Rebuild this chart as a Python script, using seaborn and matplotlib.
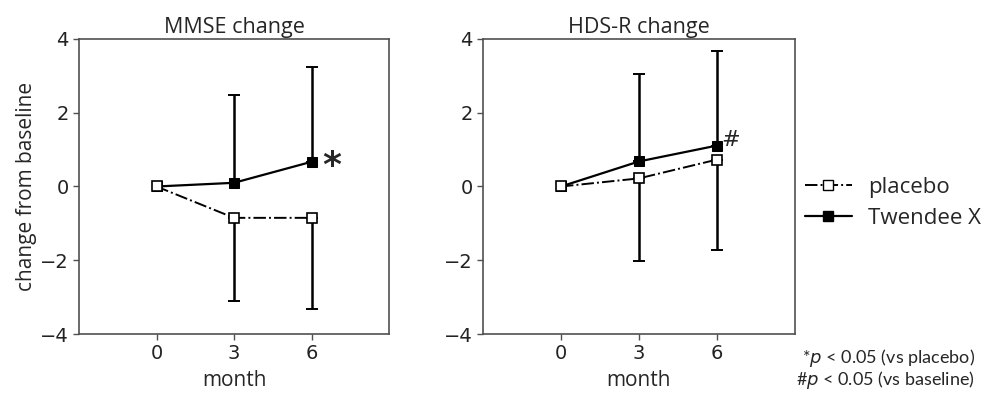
import numpy as np
import pandas as pd
import matplotlib
matplotlib.use("Agg")
import matplotlib.pyplot as plt
from matplotlib.lines import Line2D
import seaborn as sns

months = [0, 3, 6]
groups = ["placebo", "Twendee X"]
xtick_labels = ["0", "3", "6"]

mmse_placebo = [0.0, -0.85, -0.85]
mmse_placebo_sd = [0.0, 2.25, 2.47]
mmse_twendee = [0.0, 0.10, 0.67]
mmse_twendee_sd = [0.0, 2.37, 2.58]

hdsr_placebo = [0.0, 0.22, 0.73]
hdsr_placebo_sd = [0.0, 2.24, 2.45]
hdsr_twendee = [0.0, 0.68, 1.11]
hdsr_twendee_sd = [0.0, 2.37, 2.57]

titles = ["MMSE change", "HDS-R change"]

sns.set_style("ticks")
plt.rcParams["font.family"] = ["DejaVu Sans"]
plt.rcParams["mathtext.fontset"] = "dejavusans"
TXT = ["Open Sans", "DejaVu Sans"]
NOTE = ["Lato", "DejaVu Sans"]

fig = plt.figure(figsize=(9.93, 3.98), dpi=100)
ax1 = fig.add_axes([79/993, 1-334/398, 310/993, 295/398])
ax2 = fig.add_axes([483/993, 1-334/398, 312/993, 295/398])

datasets = [
    (mmse_placebo, mmse_placebo_sd, mmse_twendee, mmse_twendee_sd),
    (hdsr_placebo, hdsr_placebo_sd, hdsr_twendee, hdsr_twendee_sd),
]

edge = "#505050"
for ax, title, (pl, pl_sd, tw, tw_sd) in zip([ax1, ax2], titles, datasets):
    df = pd.DataFrame({
        "month": months * 2,
        "value": tw + pl,
        "group": ["Twendee X"] * 3 + ["placebo"] * 3,
    })
    # one-sided error bars: Twendee X upward, placebo downward
    ax.errorbar(months[1:], tw[1:], yerr=[[0, 0], tw_sd[1:]], fmt="none",
                ecolor="black", elinewidth=1.8, capsize=4, capthick=1.4, zorder=2)
    ax.errorbar(months[1:], pl[1:], yerr=[pl_sd[1:], [0, 0]], fmt="none",
                ecolor="black", elinewidth=1.8, capsize=4, capthick=1.4, zorder=2)
    sns.lineplot(data=df[df.group == "Twendee X"], x="month", y="value", ax=ax,
                 color="black", lw=1.6, marker="s", markersize=7,
                 markerfacecolor="black", markeredgecolor="black", zorder=3,
                 legend=False)
    sns.lineplot(data=df[df.group == "placebo"], x="month", y="value", ax=ax,
                 color="black", lw=1.4, linestyle="-.", marker="s", markersize=7,
                 markerfacecolor="white", markeredgecolor="black",
                 markeredgewidth=1.2, zorder=4, legend=False)
    ax.set_xlim(-3, 9)
    ax.set_ylim(-4, 4)
    ax.set_xticks(months)
    ax.set_xticklabels(xtick_labels)
    ax.set_yticks([-4, -2, 0, 2, 4])
    ax.set_yticklabels(["\u22124", "\u22122", "0", "2", "4"])
    ax.tick_params(labelsize=14, colors="#222222", length=4, width=1, color=edge)
    for s in ax.spines.values():
        s.set_visible(True)
        s.set_color(edge)
        s.set_linewidth(1.2)
    ax.set_title(title, fontsize=15.5, family=TXT, pad=4)
    ax.set_xlabel("month", fontsize=15, family=TXT, labelpad=5)
    ax.set_ylabel("")

ax1.set_ylabel("change from baseline", fontsize=15, family=TXT, labelpad=2)
ax2.set_ylabel("")

ax1.text(6.77, 0.28, "*", fontsize=26, fontweight="bold", ha="center",
         va="baseline", family="DejaVu Sans")
ax2.text(6.53, 1.10, "#", fontsize=16, ha="center", va="baseline",
         family="DejaVu Sans")

handles = [
    Line2D([], [], color="black", lw=1.4, linestyle="-.", marker="s",
           markersize=7, markerfacecolor="white", markeredgecolor="black"),
    Line2D([], [], color="black", lw=1.6, linestyle="-", marker="s",
           markersize=7, markerfacecolor="black", markeredgecolor="black"),
]
leg = fig.legend(handles, groups, loc="center left",
                 bbox_to_anchor=(805/993, 1-203/398), frameon=False,
                 borderpad=0, borderaxespad=0,
                 handlelength=2.1, handletextpad=0.75, labelspacing=0.45,
                 prop={"family": TXT, "size": 16})

fig.text(975/993, 1-358/398, r"*$p$ < 0.05 (vs placebo)", ha="right",
         va="center", fontsize=13, family=NOTE)
fig.text(975/993, 1-380/398, r"#$p$ < 0.05 (vs baseline)", ha="right",
         va="center", fontsize=13, family=NOTE)

fig.savefig("out.png", dpi=100)
